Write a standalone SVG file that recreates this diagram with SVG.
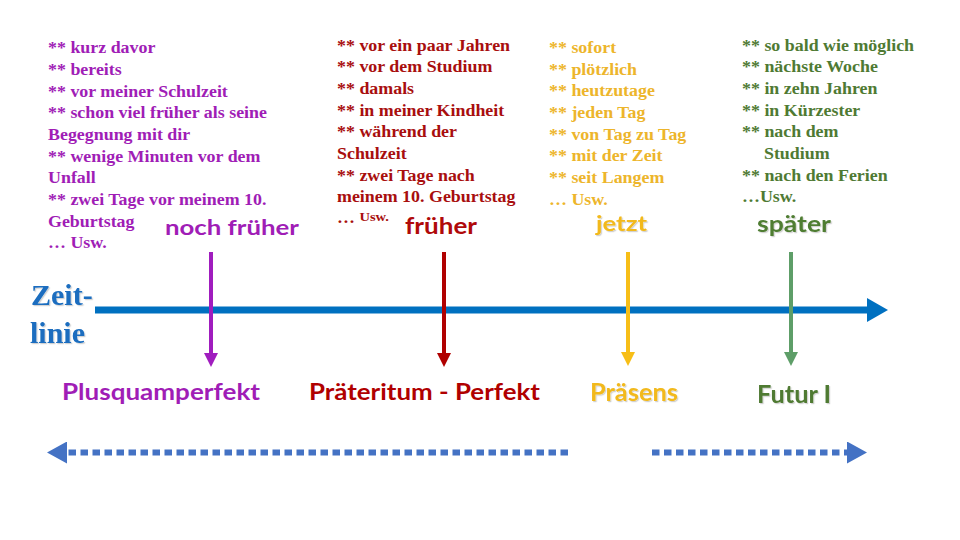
<svg xmlns="http://www.w3.org/2000/svg" width="960" height="540" viewBox="0 0 960 540">
<defs>
<style>
.list{font-family:"Liberation Serif","Times New Roman",serif;font-weight:bold;font-size:16px}
.lbl{font-family:Lato,"Open Sans",sans-serif;font-weight:bold}
.purple{fill:#A01DB6}
.red{fill:#A80E0E}
.yellow{fill:#EDB52B}
.green{fill:#4F7A33}
.shadow{filter:url(#sh)}
</style>
<filter id="sh" x="-10%" y="-20%" width="130%" height="150%">
<feDropShadow dx="1.2" dy="1.2" stdDeviation="0.6" flood-color="#000" flood-opacity="0.18"/>
</filter>
<marker id="hPurple" markerUnits="userSpaceOnUse" markerWidth="14" markerHeight="14" refX="0" refY="7" orient="auto"><path d="M0,0 L14,7 L0,14 z" fill="#A01DBE"/></marker>
<marker id="hRed" markerUnits="userSpaceOnUse" markerWidth="14" markerHeight="14" refX="0" refY="7" orient="auto"><path d="M0,0 L14,7 L0,14 z" fill="#B00000"/></marker>
<marker id="hYellow" markerUnits="userSpaceOnUse" markerWidth="14" markerHeight="14" refX="0" refY="7" orient="auto"><path d="M0,0 L14,7 L0,14 z" fill="#F7BE17"/></marker>
<marker id="hGreen" markerUnits="userSpaceOnUse" markerWidth="14" markerHeight="14" refX="0" refY="7" orient="auto"><path d="M0,0 L14,7 L0,14 z" fill="#5E9E68"/></marker>
<marker id="hBlue" markerUnits="userSpaceOnUse" markerWidth="22" markerHeight="24" refX="0" refY="12" orient="auto"><path d="M0,0 L21,12 L0,24 z" fill="#0070C0"/></marker>
<marker id="hDash" markerUnits="userSpaceOnUse" markerWidth="20" markerHeight="22" refX="0" refY="11" orient="auto"><path d="M0,0 L20,11 L0,22 z" fill="#4472C4"/></marker>
</defs>
<rect width="960" height="540" fill="#fff"/>

<g id="connectors">
<line x1="95" y1="310" x2="867" y2="310" stroke="#0070C0" stroke-width="7" marker-end="url(#hBlue)"/>
<line x1="211" y1="252" x2="211" y2="353" stroke="#A01DBE" stroke-width="4" marker-end="url(#hPurple)"/>
<line x1="444" y1="252" x2="444" y2="353" stroke="#B00000" stroke-width="4" marker-end="url(#hRed)"/>
<line x1="628" y1="252" x2="628" y2="352" stroke="#F7BE17" stroke-width="4" marker-end="url(#hYellow)"/>
<line x1="791" y1="252" x2="791" y2="352" stroke="#5E9E68" stroke-width="4" marker-end="url(#hGreen)"/>
<line x1="568" y1="452.5" x2="67" y2="452.5" stroke="#4472C4" stroke-width="6" stroke-dasharray="7.5 4.5" marker-end="url(#hDash)"/>
<line x1="652" y1="452.5" x2="847" y2="452.5" stroke="#4472C4" stroke-width="6" stroke-dasharray="7.5 4.5" marker-end="url(#hDash)"/>
</g>

<g id="zeitlinie" class="shadow">
<text x="31" y="305" font-family="Liberation Serif,serif" font-weight="bold" font-size="30" fill="#1A6DBF">Zeit-</text>
<text x="30" y="343" font-family="Liberation Serif,serif" font-weight="bold" font-size="30" fill="#1A6DBF">linie</text>
</g>

<g id="list-noch-frueher" class="list purple" transform="translate(48 0) scale(1.12 1)">
<text x="0" y="53.3">** kurz davor</text>
<text x="0" y="75">** bereits</text>
<text x="0" y="96.6">** vor meiner Schulzeit</text>
<text x="0" y="118.3">** schon viel früher als seine</text>
<text x="0" y="140">Begegnung mit dir</text>
<text x="0" y="161.6">** wenige Minuten vor dem</text>
<text x="0" y="183.3">Unfall</text>
<text x="0" y="205">** zwei Tage vor meinem 10.</text>
<text x="0" y="226.6">Geburtstag</text>
<text x="0" y="248.3">… Usw.</text>
</g>

<g id="list-frueher" class="list red" transform="translate(337 0) scale(1.12 1)">
<text x="0" y="50.7">** vor ein paar Jahren</text>
<text x="0" y="72.3">** vor dem Studium</text>
<text x="0" y="94">** damals</text>
<text x="0" y="115.6">** in meiner Kindheit</text>
<text x="0" y="137.3">** während der</text>
<text x="0" y="159">Schulzeit</text>
<text x="0" y="180.6">** zwei Tage nach</text>
<text x="0" y="202.3">meinem 10. Geburtstag</text>
<text x="0" y="223.5">… <tspan font-size="13" dy="-2">Usw.</tspan></text>
</g>

<g id="list-jetzt" class="list yellow" transform="translate(549 0) scale(1.12 1)">
<text x="0" y="53">** sofort</text>
<text x="0" y="74.6">** plötzlich</text>
<text x="0" y="96.3">** heutzutage</text>
<text x="0" y="118">** jeden Tag</text>
<text x="0" y="139.6">** von Tag zu Tag</text>
<text x="0" y="161.3">** mit der Zeit</text>
<text x="0" y="183">** seit Langem</text>
<text x="0" y="204.6">… Usw.</text>
</g>

<g id="list-spaeter" class="list green" transform="translate(742 0) scale(1.12 1)">
<text x="0" y="50.7">** so bald wie möglich</text>
<text x="0" y="72.3">** nächste Woche</text>
<text x="0" y="94">** in zehn Jahren</text>
<text x="0" y="115.6">** in Kürzester</text>
<text x="0" y="137.3">** nach dem</text>
<text x="19.6" y="159">Studium</text>
<text x="0" y="180.6">** nach den Ferien</text>
<text x="0" y="202.3">…Usw.</text>
</g>

<g id="label-noch-frueher"><text class="lbl purple" x="165" y="235" font-size="21" textLength="134" lengthAdjust="spacingAndGlyphs">noch früher</text></g>
<g id="label-frueher"><text class="lbl" fill="#B00A0A" x="405" y="234" font-size="22" textLength="72" lengthAdjust="spacingAndGlyphs">früher</text></g>
<g id="label-jetzt" class="shadow"><text class="lbl" fill="#F2B91C" x="596" y="231" font-size="21" textLength="51" lengthAdjust="spacingAndGlyphs">jetzt</text></g>
<g id="label-spaeter" class="shadow"><text class="lbl" fill="#4F7D33" x="757" y="232" font-size="22" textLength="74" lengthAdjust="spacingAndGlyphs">später</text></g>

<g id="tense-plusquamperfekt"><text class="lbl" fill="#A01DB6" x="62" y="400" font-size="23" textLength="198" lengthAdjust="spacingAndGlyphs">Plusquamperfekt</text></g>
<g id="tense-praeteritum"><text class="lbl" fill="#B00000" x="309" y="400" font-size="23" textLength="231" lengthAdjust="spacingAndGlyphs">Präteritum - Perfekt</text></g>
<g id="tense-praesens" class="shadow"><text class="lbl" fill="#F2B91C" x="590" y="400.5" font-size="24" textLength="88" lengthAdjust="spacingAndGlyphs">Präsens</text></g>
<g id="tense-futur" class="shadow"><text class="lbl" fill="#4F7A32" x="757" y="403" font-size="25" textLength="74" lengthAdjust="spacingAndGlyphs">Futur I</text></g>
</svg>
